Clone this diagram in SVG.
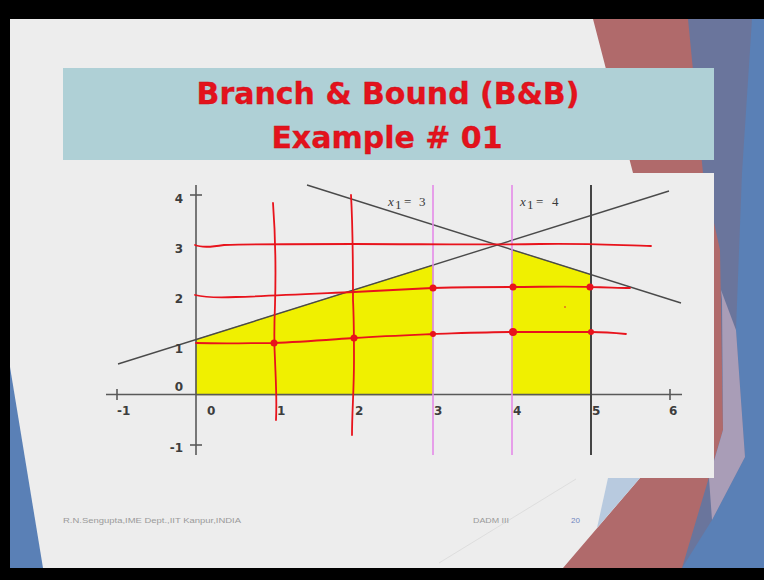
<svg xmlns="http://www.w3.org/2000/svg" width="764" height="580" viewBox="0 0 764 580">
<defs>
<style>
.gray{stroke:#4a4a4a;stroke-width:1.4;fill:none}
.axis{stroke:#595959;stroke-width:1.6;fill:none}
.pink{stroke:#e48ae8;stroke-width:1.6;fill:none}
.red{stroke:#e8131c;stroke-width:1.8;fill:none;stroke-linecap:round;stroke-linejoin:round}
.dot{fill:#e8131c}
.yel{fill:#f0f000;stroke:#8a8a20;stroke-width:0.6}
.num{font-family:"DejaVu Sans",sans-serif;font-weight:bold;font-size:12px;fill:#3d3d3d}
.lab{font-family:"Liberation Serif",serif;font-size:13px;fill:#3a3a3a}
.title{font-family:"DejaVu Sans",sans-serif;font-weight:bold;font-size:30px;fill:#e3121c;stroke:#c80f18;stroke-width:0.3;text-anchor:middle}
.foot{font-family:"Liberation Sans",sans-serif;font-size:8px;fill:#9a9a9a}
</style>
</defs>
<g id="background">
<rect x="0" y="0" width="764" height="580" fill="#ededed"/>
<polygon points="686,19 764,19 764,568 682,568" fill="#6a759c"/>
<polygon points="752,19 764,19 764,568 682,568 712,520 745,457 736,330 742,173" fill="#5a80b6"/>
<polygon points="593,19 688,19 703,173 720,250 723,430 682,568 563,568 640,478 633,173" fill="#b06a6b"/>
<polygon points="721,290 736,330 745,457 712,520 709,478 723,430 722,300" fill="#a99db7"/>
<polygon points="608,478 640,478 597,528" fill="#b8cadf"/>
<line x1="576" y1="479" x2="439" y2="563" stroke="#d9d9d9" stroke-width="0.8"/>
<polygon points="10,367 10,568 43,568" fill="#5a80b6"/>
</g>
<g id="title">
<rect x="63" y="68" width="651" height="92" fill="#afd0d6"/>
<text class="title" x="388" y="104">Branch &amp; Bound (B&amp;B)</text>
<text class="title" x="387" y="148">Example # 01</text>
</g>
<g id="plot">
<rect x="63" y="173" width="651" height="305" fill="#ededed"/>
<polygon class="yel" points="196,395 196,339.5 433,265.1 433,395"/>
<polygon class="yel" points="512,395 512,249.7 591,274.6 591,395"/>
<line class="axis" x1="106" y1="394.5" x2="682" y2="394.5"/>
<line class="axis" x1="196" y1="185" x2="196" y2="455"/>
<line class="axis" x1="117" y1="389" x2="117" y2="400"/>
<line class="axis" x1="670" y1="389" x2="670" y2="400"/>
<line class="axis" x1="190" y1="195" x2="202" y2="195"/>
<line class="axis" x1="190" y1="445" x2="202" y2="445"/>
<line class="gray" x1="118" y1="364" x2="669" y2="191"/>
<line class="gray" x1="307" y1="185" x2="681" y2="303"/>
<line class="pink" x1="433" y1="185" x2="433" y2="455"/>
<line class="pink" x1="512" y1="185" x2="512" y2="455"/>
<line stroke="#444" stroke-width="2" x1="591" y1="185" x2="591" y2="455"/>
<text class="lab" x="388" y="206" font-style="italic">x</text>
<text class="lab" x="395" y="209" font-size="7">1</text>
<text class="lab" x="404" y="206" font-size="15">=</text>
<text class="lab" x="419" y="206">3</text>
<text class="lab" x="520" y="206" font-style="italic">x</text>
<text class="lab" x="527" y="209" font-size="7">1</text>
<text class="lab" x="536" y="206" font-size="15">=</text>
<text class="lab" x="552" y="206">4</text>
<text class="num" x="117" y="415">-1</text>
<text class="num" x="207" y="415">0</text>
<text class="num" x="277" y="415">1</text>
<text class="num" x="355" y="415">2</text>
<text class="num" x="434" y="415">3</text>
<text class="num" x="513" y="415">4</text>
<text class="num" x="592" y="415">5</text>
<text class="num" x="669" y="415">6</text>
<text class="num" x="183" y="203" text-anchor="end">4</text>
<text class="num" x="183" y="253" text-anchor="end">3</text>
<text class="num" x="183" y="303" text-anchor="end">2</text>
<text class="num" x="183" y="353" text-anchor="end">1</text>
<text class="num" x="183" y="391" text-anchor="end">0</text>
<text class="num" x="183" y="452" text-anchor="end">-1</text>
</g>
<g id="sketch">
<path class="red" d="M195,245 C202,248 212,247 224,245 C260,244 300,244 354,244 C420,244 480,245 540,244 C590,243 630,246 651,246"/>
<path class="red" d="M195,295 C203,297 214,298 236,297 C270,296 310,294 354,292 C390,290 410,289 433,288 C470,287 490,287 512,287 C540,287 565,286 591,287 C605,287 618,288 630,288"/>
<path class="red" d="M196,343 C230,344 250,343 274,343 C300,342 325,340 354,338 C385,336 410,335 433,334 C465,333 490,332 512,332 C540,332 565,332 591,332 C605,332 616,333 626,334"/>
<path class="red" d="M273,203 C275,230 276,270 275,305 C274,330 274,343 275,360 C276,385 277,400 276,420"/>
<path class="red" d="M351,195 C353,230 353,270 353,300 C354,320 354,338 354,360 C354,390 352,412 352,435"/>
<circle class="dot" cx="274" cy="343" r="3.5"/>
<circle class="dot" cx="354" cy="338" r="3.5"/>
<circle class="dot" cx="433" cy="334" r="3"/>
<circle class="dot" cx="513" cy="332" r="4"/>
<circle class="dot" cx="591" cy="332" r="3"/>
<circle class="dot" cx="433" cy="288" r="3.5"/>
<circle class="dot" cx="513" cy="287" r="3.5"/>
<circle class="dot" cx="590" cy="287" r="3.5"/>
<circle cx="565" cy="307" r="1" fill="#e07020"/>
</g>
<g id="footer">
<text class="foot" x="63" y="523" textLength="178" lengthAdjust="spacingAndGlyphs">R.N.Sengupta,IME Dept.,IIT Kanpur,INDIA</text>
<text class="foot" x="473" y="523" textLength="36" lengthAdjust="spacingAndGlyphs">DADM III</text>
<text class="foot" x="571" y="523" style="fill:#6f86c0">20</text>
</g>
<g id="frame">
<rect x="0" y="0" width="764" height="19" fill="#000"/>
<rect x="0" y="568" width="764" height="12" fill="#000"/>
<rect x="0" y="0" width="10" height="580" fill="#000"/>
</g>
</svg>
